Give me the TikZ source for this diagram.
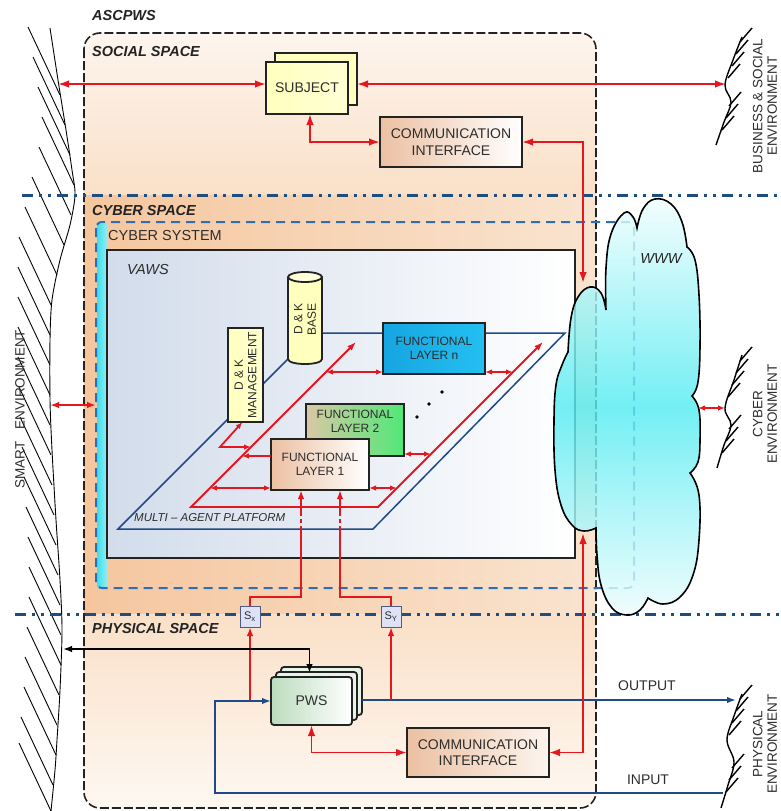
\documentclass[tikz,border=0pt]{standalone}
\usepackage{fontspec}
\setmainfont{Liberation Sans}
\usetikzlibrary{arrows.meta,calc}
\definecolor{arrred}{RGB}{228,22,30}
\definecolor{platblue}{RGB}{30,75,135}
\definecolor{dashblue}{RGB}{45,110,180}
\definecolor{ddblue}{RGB}{28,78,128}
\definecolor{bord}{RGB}{35,35,35}
\definecolor{txt}{RGB}{45,45,45}
\definecolor{cloudc}{RGB}{85,236,242}
\definecolor{peachA}{RGB}{253,245,238}
\definecolor{peachB}{RGB}{250,224,200}
\definecolor{peachC}{RGB}{245,198,158}
\definecolor{peachD}{RGB}{249,228,208}
\definecolor{peachE}{RGB}{254,248,242}
\definecolor{subjy}{RGB}{255,255,190}
\definecolor{tanc}{RGB}{236,192,162}
\definecolor{flnA}{RGB}{22,165,225}
\definecolor{flnB}{RGB}{35,192,242}
\definecolor{flgreen}{RGB}{80,232,120}
\definecolor{flgtan}{RGB}{218,200,165}
\definecolor{pwsg}{RGB}{188,220,190}
\definecolor{vawsbg}{RGB}{210,220,235}
\definecolor{sbox}{RGB}{222,226,246}
\definecolor{sbord}{RGB}{80,90,130}
\definecolor{stripA}{RGB}{60,224,240}
\definecolor{stripB}{RGB}{150,236,240}
\tikzset{
  redln/.style={draw=arrred, line width=1.8pt},
  blueln/.style={draw=platblue, line width=1.6pt},
  bigtip/.style={>={Latex[length=11pt,width=7.5pt]}},
  midtip/.style={>={Latex[length=9pt,width=6.5pt]}},
  smalltip/.style={>={Latex[length=7pt,width=5.5pt]}},
  box/.style={draw=bord, line width=1.8pt, inner sep=0pt, outer sep=0pt, text=txt, align=center, font=\fontsize{14}{16.5}\selectfont},
  flbox/.style={box, font=\fontsize{12}{13.5}\selectfont},
  fltext/.style={inner sep=0pt, text=txt, align=center, font=\fontsize{12}{13.5}\selectfont},
  title/.style={anchor=west, inner sep=0pt, text=bord, font=\fontsize{14.5}{17}\selectfont\bfseries\itshape},
  lbl/.style={inner sep=0pt, text=txt, font=\fontsize{14}{16}\selectfont},
  envtext/.style={rotate=90, inner sep=0pt, text=txt, align=center, font=\fontsize{13.5}{14.5}\selectfont},
  hatchln/.style={draw=black, line width=0.9pt},
  envhatch/.style={draw=black, line width=1.4pt},
  ddline/.style={draw=ddblue, line width=3pt, dash pattern=on 11pt off 6pt on 3pt off 6pt on 3pt off 6pt},
  sensor/.style={draw=sbord, line width=1pt, fill=sbox, minimum width=20pt, minimum height=21pt, inner sep=0pt, outer sep=0pt, font=\fontsize{11}{12}\selectfont, text=txt},
}
\begin{document}
\begin{tikzpicture}[x=1pt,y=-1pt]
\useasboundingbox (0,0) rectangle (781,811);
\fill[white] (0,0) rectangle (781,811);

% ---------- ASCPWS background bands ----------
\begin{scope}
\clip[rounded corners=16pt] (84,33) rectangle (596,808);
\shade[top color=peachA, bottom color=peachB] (84,33) rectangle (596,195);
\shade[left color=peachC, right color=peachD] (84,195) rectangle (596,614);
\shade[top color=peachB, bottom color=peachE] (84,614) rectangle (596,808);
\end{scope}
\draw[bord, line width=1.6pt, dash pattern=on 9pt off 3pt, rounded corners=16pt] (84,33) rectangle (596,808);

% ---------- smart environment boundary ----------
\draw[black, line width=0.9pt] plot[smooth] coordinates {(50,28) (58,80) (66,130) (72,170) (75,195) (70,225) (60,260) (52,300) (50,340) (50,400) (52,450) (56,520) (60,580) (62,630) (60,690) (57,740) (55,770) (51,811)};
\foreach \xb/\ye in {60/95,65/125,70/155,74/185,71/215,64/245,57/275,51/305,50/335,50/365,50/395,50/425,51/455,52/485,54/515,56/545,58/575,60/605,61/635,61/665,59/695,57/725,56/755,53/785,51/811}
  \draw[hatchln] (\xb,\ye) -- ++(-32,-68);
\node[envtext] (smartt) at (20,409) {SMART\hspace{8pt} ENVIRONMENT};

% ---------- dash-dot separators ----------
\draw[ddline] (22,195) -- (781,195);
\draw[ddline] (15,614) -- (781,614);

% ---------- titles ----------
\node[title] (ascpws) at (92,16) {ASCPWS};
\node[title] (social) at (92,52) {SOCIAL SPACE};
\node[title] (cyber) at (92,211) {CYBER SPACE};
\node[title] (phys) at (92,629) {PHYSICAL SPACE};

% ---------- cyber system ----------
\shade[left color=stripA, right color=stripB] (97,224) rectangle (107,586);
\draw[dashblue, line width=2pt, dash pattern=on 9pt off 6pt, rounded corners=6pt] (96,222) rectangle (634,588);
\node[lbl, anchor=west, font=\fontsize{14.5}{16}\selectfont] (cysys) at (108,236) {CYBER SYSTEM};

% ---------- VAWS ----------
\node[draw=bord, line width=1.8pt, left color=vawsbg, right color=white, minimum width=468pt, minimum height=308pt, inner sep=0pt, outer sep=0pt] (vaws) at (341,404) {};
\node[lbl, anchor=west, font=\fontsize{14.5}{16}\selectfont\itshape] (vawst) at (127,270) {VAWS};

% multi-agent platform
\draw[platblue, line width=1.5pt] (118,529) -- (373,529) -- (565,333) -- (314,333) -- cycle;
\node[lbl, anchor=west, font=\fontsize{11.5}{13}\selectfont\itshape] (mapt) at (134,518) {MULTI -- AGENT PLATFORM};
\coordinate (rA) at (356,342);
\coordinate (rB) at (191,507);
\coordinate (rC) at (378,507);
\coordinate (rD) at (543,342);
\draw[redln, midtip, <->] (rA) -- (rB) -- (rC) -- (rD);

% D & K base (cylinder)
\path[fill=subjy, draw=bord, line width=1.8pt] (288,277) -- (288,359) .. controls (288,365.67) and (322,365.67) .. (322,359) -- (322,277);
\draw[fill=subjy!55!white, draw=bord, line width=1.8pt] (305,277) ellipse [x radius=17, y radius=5];
\node[envtext, font=\fontsize{12}{13.5}\selectfont] (dkb) at (305,319) {D \& K\\BASE};

% D & K management
\node[box, left color=subjy, right color=subjy!70!white, minimum width=35pt, minimum height=94pt] (dkm) at (245.5,375) {};
\node[envtext, font=\fontsize{12}{13.5}\selectfont] (dkmt) at (dkm) {D \& K\\MANAGEMENT};

% functional layers
\node[flbox, left color=flnA, right color=flnB, minimum width=102pt, minimum height=51pt] (fln) at (434,348.5) {FUNCTIONAL\\LAYER n};
\node[flbox, left color=flgtan, right color=flgreen, minimum width=98pt, minimum height=52pt] (fl2) at (355,430) {};
\node[fltext] (fl2t) at (355,421.5) {FUNCTIONAL\\LAYER 2};
\node[flbox, left color=tanc, right color=white, minimum width=98pt, minimum height=51pt] (fl1) at (320,464.5) {FUNCTIONAL\\LAYER 1};

\foreach \dx/\dy [count=\i] in {417/417,429/404,442/392}
  \fill[black] (\dx,\dy) circle [radius=1.8] node (dot\i) {};

% platform arrows
\coordinate (pn1) at (326,372);
\coordinate (pn2) at (513,372);
\coordinate (p21) at (431,454);
\coordinate (p11) at (242,456);
\coordinate (p12) at (210,488);
\coordinate (p13) at (397,488);
\coordinate (dkc) at (220,447);
\coordinate (dkr) at (251,447);
\draw[redln, smalltip, <->] (pn1) -- (pn1 -| fln.west);
\draw[redln, smalltip, <->] (pn2 -| fln.east) -- (pn2);
\draw[redln, smalltip, <->] (p21 -| fl2.east) -- (p21);
\draw[redln, smalltip, ->] (p11 -| fl1.west) -- (p11);
\draw[redln, smalltip, <->] (p12) -- (p12 -| fl1.west);
\draw[redln, smalltip, <->] (p13 -| fl1.east) -- (p13);
\draw[redln, smalltip, <->] ($(dkm.south)+(-3,0)$) -- (dkc) -- (dkr);

% ---------- sensors and verticals ----------
\node[sensor] (sx) at (250,616.5) {S\textsubscript{x}};
\node[sensor] (sy) at (391,616.5) {S\textsubscript{Y}};
\coordinate (va1) at (301,512);
\coordinate (va2) at (301,528);
\coordinate (vb1) at (340,512);
\coordinate (vb2) at (340,528);
\draw[redln, midtip, <-] (fl1.south -| va1) -- (va1);
\draw[redln, dash pattern=on 4pt off 3pt] (va1) -- (va2);
\draw[redln] (va2) -- (301,597) -- (250,597) -- (sx.north);
\draw[redln, midtip, <-] (fl1.south -| vb1) -- (vb1);
\draw[redln, dash pattern=on 4pt off 3pt] (vb1) -- (vb2);
\draw[redln] (vb2) -- (340,597) -- (391,597) -- (sy.north);

% ---------- social space ----------
\node[box, fill=subjy, minimum width=82pt, minimum height=52pt] (subjb) at (316,79) {};
\node[box, left color=subjy, right color=subjy!65!white, minimum width=82pt, minimum height=52pt] (subj) at (307,88) {SUBJECT};
\node[box, left color=tanc, right color=white, minimum width=142pt, minimum height=50pt] (cit) at (451,142) {COMMUNICATION\\INTERFACE};

\coordinate (smartS) at (58,84);
\coordinate (bizE) at (726,84);
\coordinate (cloudT) at (583,283);
\coordinate (cloudB) at (583,533);
\draw[redln, bigtip, <->] (smartS) -- (subj.west |- smartS);
\draw[redln, bigtip, <->] (subjb.east |- smartS) -- (bizE);
\draw[redln, bigtip, <->] ($(subj.south)+(3,0)$) |- (cit.west);
\draw[redln, bigtip, <->] (cit.east) -| (cloudT);

% ---------- physical space ----------
\node[box, rounded corners=3pt, fill=pwsg!35!white, minimum width=81pt, minimum height=48pt] (pwsb) at (321.5,691) {};
\node[box, rounded corners=3pt, fill=pwsg!35!white, minimum width=81pt, minimum height=48pt] (pwsm) at (316.5,696) {};
\node[box, rounded corners=3pt, left color=pwsg, right color=white, minimum width=81pt, minimum height=48pt] (pws) at (311.5,701) {PWS};
\node[box, left color=tanc, right color=peachA, minimum width=142pt, minimum height=49pt] (cib) at (478,752.5) {COMMUNICATION\\INTERFACE};

\coordinate (physIn) at (723,793);
\coordinate (physOut) at (736,700);
\coordinate (inL) at (215,793);
\coordinate (smartP) at (63,649);
\coordinate (sxB) at (250,700);
\coordinate (syB) at (391,700);
\draw[blueln, midtip, ->] (physIn) -- (inL) -- (inL |- pws.west) -- (pws.west);
\draw[blueln, midtip, ->] (pwsb.east |- physOut) -- (physOut);
\draw[redln, midtip, ->] (sxB) -- (sx.south);
\draw[redln, midtip, ->] (syB) -- (sy.south);
\draw[black, line width=1.6pt, midtip, <->] (smartP) -| ($(pws.north)+(-2,-4)$);
\draw[redln, bigtip, <->] (pws.south) |- (cib.west);
\draw[redln, bigtip, <->] (cib.east) -| (cloudB);
\node[lbl] (outt) at (647,686) {OUTPUT};
\node[lbl] (inpt) at (648,780) {INPUT};

% smart environment <-> cyber system
\coordinate (smartC) at (50,405);
\coordinate (cysL) at (96,405);
\draw[redln, midtip, <->] (smartC) -- (cysL);

% ---------- cloud (WWW) ----------
\path[draw=black, line width=1.6pt, fill opacity=0.82, top color=cloudc!8!white, bottom color=cloudc!10!white, middle color=cloudc]
  plot[smooth, tension=0.7] coordinates {(596,528) (584,531) (572,525) (561,505) (555,470) (554,420) (556,385) (562,365) (568,352)}
  -- plot[smooth, tension=0.7] coordinates {(568,352) (571,318) (578,297) (590,287) (601,293) (606,310)}
  -- plot[smooth, tension=0.7] coordinates {(606,310) (606,268) (611,234) (624,213) (633,217) (637,228)}
  -- plot[smooth, tension=0.7] coordinates {(637,228) (643,209) (655,199) (671,204) (682,222) (687,247)}
  -- plot[smooth, tension=0.7] coordinates {(687,247) (695,260) (699,295) (700,345) (698,382) (692,396)}
  -- plot[smooth, tension=0.7] coordinates {(692,396) (699,410) (700,440) (698,462) (690,473)}
  -- plot[smooth, tension=0.7] coordinates {(690,473) (699,495) (699,540) (693,575) (680,597) (663,604) (648,598)}
  -- plot[smooth, tension=0.7] coordinates {(648,598) (640,610) (627,615) (612,608) (601,585) (597,555) (596,528)}
  -- cycle;
\node[inner sep=0pt, text=bord, font=\fontsize{14.5}{16}\selectfont\itshape] (www) at (661,259) {WWW};

% cyber environment arrow
\coordinate (cloudR) at (698,408);
\coordinate (cybE) at (725,408);
\draw[redln, smalltip, <->] (cloudR) -- (cybE);

% ---------- environment symbols ----------
\draw[black, line width=1.4pt] plot[smooth, tension=0.6] coordinates {(742,37) (733,60) (725,85) (731,102) (724,122) (716,145)};
\foreach \hx/\hy in {740/42,736/54,732/66,728/78,729/106,726/118,722/130}
  \draw[envhatch] (\hx,\hy) -- ++(12,-14);
\node[envtext] (bizt) at (765,106) {BUSINESS \& SOCIAL\\ENVIRONMENT};

\draw[black, line width=1.4pt] plot[smooth, tension=0.6] coordinates {(742,355) (734,380) (725,408) (731,425) (724,445) (717,468)};
\foreach \hx/\hy in {740/361,736/373,732/385,728/397,729/429,726/441,722/453}
  \draw[envhatch] (\hx,\hy) -- ++(12,-14);
\node[envtext] (cybt) at (765,414) {CYBER\\ENVIRONMENT};

\draw[black, line width=1.4pt] plot[smooth, tension=0.6] coordinates {(742,694) (734,716) (727,740) (734,762) (728,785) (721,808)};
\foreach \hx/\hy in {740/699,736/711,732/723,729/735,732/768,729/780,726/792}
  \draw[envhatch] (\hx,\hy) -- ++(12,-14);
\node[envtext] (phyt) at (765,744) {PHYSICAL\\ENVIRONMENT};
\end{tikzpicture}
\end{document}
